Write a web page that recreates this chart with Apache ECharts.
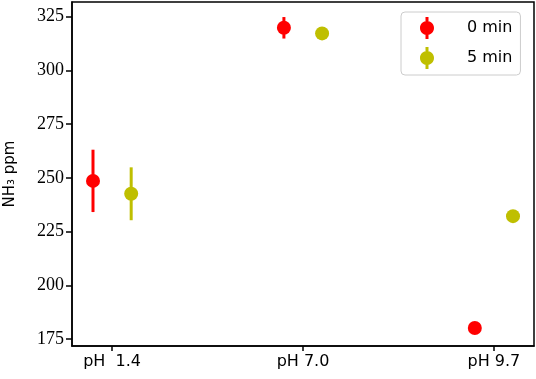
<!DOCTYPE html>
<html>
<head>
<meta charset="utf-8">
<script src="https://cdn.jsdelivr.net/npm/echarts@6/dist/echarts.min.js"></script>
<style>html,body{margin:0;padding:0;background:#fff;}#c{width:536px;height:379px;}</style>
</head>
<body>
<div id="c"></div>
<script>
const categories = ['pH  1.4', 'pH 7.0', 'pH 9.7'];
const seriesNames = ['0 min', '5 min'];
const values0 = [248.6, 319.8, 180.2];
const errors0 = [14.5, 5.0, 0];
const values5 = [242.6, 317.2, 232.2];
const errors5 = [12.3, 1.5, 0];
const yTicks = [175, 200, 225, 250, 275, 300, 325];

const colors = ['#ff0000', '#bfbf00'];
const offsets = [-0.1, 0.1];
const allVals = [values0, values5];
const allErrs = [errors0, errors5];

const chart = echarts.init(document.getElementById('c'), null, {renderer: 'canvas'});
const legendIcon = 'path://M5.5,0L8.5,0L8.5,6L5.5,6Z M5.5,16L8.5,16L8.5,22L5.5,22Z M0,11C0,7.134 3.134,4 7,4C10.866,4 14,7.134 14,11C14,14.866 10.866,18 7,18C3.134,18 0,14.866 0,11Z';

const series = [];
seriesNames.forEach((name, s) => {
  const data = categories.map((c, i) => [i + offsets[s], allVals[s][i], allErrs[s][i]]);
  series.push({
    name: name,
    type: 'custom',
    data: data,
    itemStyle: {color: colors[s]},
    z: 2,
    renderItem: function (params, api) {
      const x = api.value(0), y = api.value(1), e = api.value(2);
      const p1 = api.coord([x, y - e]);
      const p2 = api.coord([x, y + e]);
      return {type: 'line', shape: {x1: p1[0], y1: p1[1], x2: p2[0], y2: p2[1]},
        style: {stroke: colors[s], lineWidth: 3}};
    }
  });
  series.push({
    name: name,
    type: 'scatter',
    data: data.map(d => [d[0], d[1]]),
    symbol: 'circle',
    symbolSize: 14,
    itemStyle: {color: colors[s], opacity: 1},
    z: 3
  });
});

chart.setOption({
  animation: false,
  grid: {left: 72, right: 2, top: 2, bottom: 33, containLabel: false, outerBoundsMode: 'none',
    show: true, borderColor: '#000', borderWidth: 1.5, backgroundColor: 'transparent'},
  legend: {
    data: seriesNames.map((n, s) => ({name: n, icon: legendIcon, itemStyle: {color: colors[s]}})),
    orient: 'vertical',
    left: 401, top: 12,
    itemWidth: 14, itemHeight: 22, itemGap: 8,
    padding: [5, 8, 6, 19],
    borderColor: '#cccccc', borderWidth: 1, borderRadius: 4,
    backgroundColor: 'rgba(255,255,255,0.8)',
    textStyle: {fontFamily: 'DejaVu Sans', fontSize: 16, color: '#000', padding: [0, 0, 0, 28]},
    selectedMode: false
  },
  xAxis: {
    type: 'value', min: -0.21, max: 2.21,
    axisLine: {show: true, onZero: false, lineStyle: {color: '#000', width: 1.5}},
    axisTick: {show: true, customValues: [0, 1, 2], length: 5, lineStyle: {color: '#000', width: 1.5}},
    axisLabel: {show: true, customValues: [0, 1, 2], formatter: v => categories[Math.round(v)] || '',
      fontFamily: 'DejaVu Sans', fontSize: 16, color: '#000', margin: 8},
    splitLine: {show: false}
  },
  yAxis: {
    type: 'value', min: 171.8, max: 331.8,
    name: 'NH₃ ppm', nameLocation: 'middle', nameGap: 54,
    nameTextStyle: {fontFamily: 'DejaVu Sans', fontSize: 15, color: '#000'},
    axisLine: {show: true, onZero: false, lineStyle: {color: '#000', width: 1.5}},
    axisTick: {show: true, customValues: yTicks, length: 6, lineStyle: {color: '#000', width: 1.5}},
    axisLabel: {show: true, customValues: yTicks, fontFamily: 'Liberation Serif', fontSize: 18, color: '#000', margin: 8},
    splitLine: {show: false}
  },
  series: series
});
</script>
</body>
</html>
